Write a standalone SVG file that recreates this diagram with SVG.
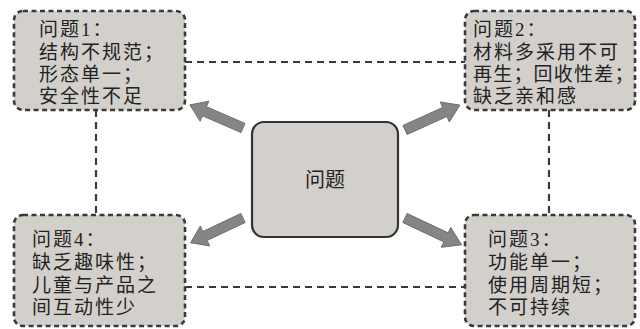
<svg xmlns="http://www.w3.org/2000/svg" xmlns:xlink="http://www.w3.org/1999/xlink" width="640" height="329" viewBox="0 0 640 329">
<style>
.box{fill:#d3cfcb;stroke:#3a3a3a;stroke-width:2.6;stroke-dasharray:5 3.5}
.center{fill:#d3cfcb;stroke:#333;stroke-width:2.2}
.link{fill:none;stroke:#3a3a3a;stroke-width:2.2;stroke-dasharray:7 5}
.arrow{fill:#858585;stroke:#666;stroke-width:0.8}
text{font-family:"Liberation Serif","Noto Sans CJK SC",serif;font-size:19px;fill:#222;letter-spacing:2px}
</style>
<defs>
<path id="arr" class="arrow" d="M0,-5 L42,-5 L42,-11 L58,0 L42,11 L42,5 L0,5 Z"/>
</defs>
<rect width="640" height="329" fill="#fff"/>
<g id="connectors">
<line class="link" x1="185" y1="62" x2="465" y2="62"/>
<line class="link" x1="185" y1="287" x2="465" y2="287"/>
<line class="link" x1="96" y1="110" x2="96" y2="215"/>
<line class="link" x1="549" y1="110" x2="549" y2="215" stroke-dasharray="3 7"/>
<use xlink:href="#arr" transform="translate(243,128) rotate(203.5)"/>
<use xlink:href="#arr" transform="translate(405,130) rotate(-24.4) scale(1.04,1)"/>
<use xlink:href="#arr" transform="translate(243,218) rotate(154.7)"/>
<use xlink:href="#arr" transform="translate(405,218) rotate(25.3) scale(1.08,1)"/>
</g>
<g id="node1">
<rect class="box" x="14" y="11" width="171" height="99" rx="9"/>
<text x="39" y="36">问题1：</text>
<text x="39" y="59">结构不规范；</text>
<text x="39" y="81">形态单一；</text>
<text x="39" y="103">安全性不足</text>
</g>
<g id="node2">
<rect class="box" x="465" y="11" width="170" height="99" rx="9"/>
<text x="473" y="36">问题2：</text>
<text x="473" y="59">材料多采用不可</text>
<text x="473" y="81" style="letter-spacing:1.2px">再生；回收性差；</text>
<text x="473" y="103">缺乏亲和感</text>
</g>
<g id="node4">
<rect class="box" x="14" y="215" width="171" height="111" rx="9"/>
<text x="32" y="246">问题4：</text>
<text x="32" y="269">缺乏趣味性；</text>
<text x="32" y="292">儿童与产品之</text>
<text x="32" y="314">间互动性少</text>
</g>
<g id="node3">
<rect class="box" x="465" y="215" width="170" height="111" rx="9"/>
<text x="488" y="246">问题3：</text>
<text x="488" y="269">功能单一；</text>
<text x="488" y="292">使用周期短；</text>
<text x="488" y="314">不可持续</text>
</g>
<g id="center">
<rect class="center" x="252" y="122" width="146" height="115" rx="12"/>
<text x="325" y="187" text-anchor="middle" style="font-size:20px;letter-spacing:0">问题</text>
</g>
</svg>
